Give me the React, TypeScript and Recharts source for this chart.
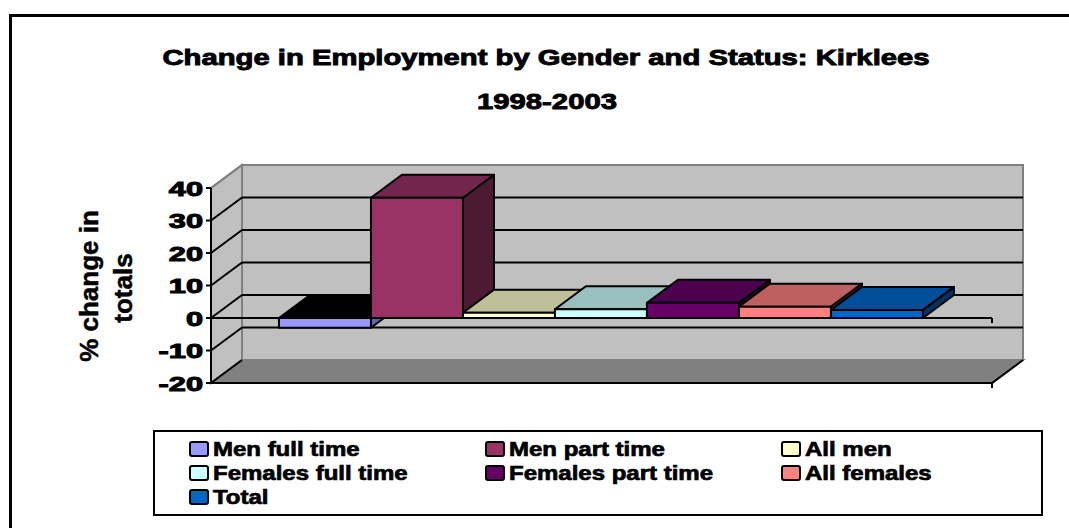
import { BarChart, Bar, XAxis, YAxis, ReferenceArea, ReferenceLine, Legend } from "recharts";

const categories = ["Kirklees 1998-2003"];
const seriesNames = [
  "Men full time",
  "Men part time",
  "All men",
  "Females full time",
  "Females part time",
  "All females",
  "Total",
];
const seriesValues = [-3, 37, 1.6, 2.7, 4.7, 3.5, 2.5];
const seriesColors = ["#9999FF", "#993366", "#FFFFCC", "#CCFFFF", "#660066", "#FF8080", "#0066CC"];
const yTicks = [-20, -10, 0, 10, 20, 30, 40];
const titleLines = ["Change in Employment by Gender and Status: Kirklees", "1998-2003"];
const yTitleLines = ["% change in", "totals"];

// depth of the fake 3d box
const DX = 31;
const DY = -23;
const FONT = '"Liberation Sans", Arial, Helvetica, sans-serif';

const data = categories.map((name) => {
  const row: Record<string, string | number> = { name };
  seriesNames.forEach((_, j) => {
    row[`s${j}`] = seriesValues[j];
  });
  return row;
});

function shade(hex: string, f: number) {
  const n = parseInt(hex.slice(1), 16);
  const r = Math.round(((n >> 16) & 255) * f);
  const g = Math.round(((n >> 8) & 255) * f);
  const b = Math.round((n & 255) * f);
  return `rgb(${r},${g},${b})`;
}

function Bar3D(props: any) {
  const { x, y, width, height, fill } = props;
  const v = props.payload?.[props.dataKey] ?? 0;
  const top = Math.min(y, y + height);
  const bottom = Math.max(y, y + height);
  const l = x;
  const r = x + width;
  const topFill = v < 0 ? "#000" : shade(fill, 0.75);
  const sideFill = shade(fill, v < 0 ? 0.65 : 0.5);
  return (
    <g stroke="#000" strokeWidth={2} strokeLinejoin="round">
      <polygon
        points={`${r},${top} ${r + DX},${top + DY} ${r + DX},${bottom + DY} ${r},${bottom}`}
        fill={sideFill}
      />
      <polygon
        points={`${l},${top} ${r},${top} ${r + DX},${top + DY} ${l + DX},${top + DY}`}
        fill={topFill}
      />
      <rect x={l} y={top} width={width} height={bottom - top} fill={fill} />
    </g>
  );
}

function Walls(props: any) {
  const { x, y, width, height } = props;
  const r = x + width;
  const b = y + height;
  return (
    <g>
      <polygon
        points={`${x},${y} ${x + DX},${y + DY} ${x + DX},${b + DY} ${x},${b}`}
        fill="#C0C0C0"
        stroke="#808080"
        strokeWidth={2}
      />
      <rect x={x + DX} y={y + DY} width={width} height={height} fill="#C0C0C0" stroke="#808080" strokeWidth={2} />
      <polygon
        points={`${x},${b} ${x + DX},${b + DY} ${r + DX},${b + DY} ${r},${b}`}
        fill="#808080"
        stroke="#808080"
        strokeWidth={2}
      />
      <polyline points={`${x},${b} ${r},${b} ${r + DX},${b + DY}`} fill="none" stroke="#000" strokeWidth={2} />
      <line x1={r} y1={b} x2={r} y2={b + 5} stroke="#000" strokeWidth={2} />
    </g>
  );
}

function GridLine(props: any) {
  const { x1, y1, x2, v } = props;
  const isTop = v === yTicks[yTicks.length - 1];
  const isBottom = v === yTicks[0];
  return (
    <g strokeWidth={2}>
      <line x1={x1} y1={y1} x2={x1 + DX} y2={y1 + DY} stroke={isTop ? "#808080" : "#000"} />
      {!isTop && !isBottom && (
        <line x1={x1 + DX} y1={y1 + DY} x2={x2 + DX} y2={y1 + DY} stroke="#000" />
      )}
    </g>
  );
}

function ZeroLine(props: any) {
  const { x1, y1, x2 } = props;
  return (
    <g stroke="#000" strokeWidth={2}>
      <line x1={x1} y1={y1} x2={x2} y2={y1} />
      <line x1={x2} y1={y1} x2={x2} y2={y1 + 5} />
    </g>
  );
}

function YTick(props: any) {
  const { x, y, payload } = props;
  return (
    <text
      transform={`translate(${x},${y + 7.5}) scale(1.5,1)`}
      textAnchor="end"
      fontSize={20.5}
      fontWeight="bold"
      fontFamily={FONT}
      fill="#000"
      stroke="#000"
      strokeWidth={1}
    >
      {payload.value}
    </text>
  );
}

function LegendBox(props: any) {
  const items = [...(props.payload ?? [])].sort(
    (a: any, b: any) => seriesNames.indexOf(a.value) - seriesNames.indexOf(b.value)
  );
  return (
    <div
      style={{
        width: 890,
        height: 86,
        boxSizing: "border-box",
        border: "2px solid #000",
        background: "#fff",
      }}
    >
      <svg width={886} height={82} style={{ display: "block" }}>
        {items.map((it: any, i: number) => {
          const sx = 35 + (i % 3) * 296;
          const sy = 10 + Math.floor(i / 3) * 24;
          return (
            <g key={i}>
              <rect x={sx} y={sy} width={18} height={14} rx={2} fill={it.color} stroke="#000" strokeWidth={2} />
              <text
                transform={`translate(${sx + 23},${sy + 14}) scale(1.2,1)`}
                fontSize={20}
                fontWeight="bold"
                fontFamily={FONT}
                fill="#000"
                stroke="#000"
                strokeWidth={0.7}
              >
                {it.value}
              </text>
            </g>
          );
        })}
      </svg>
    </div>
  );
}

export default function App() {
  return (
    <div
      style={{
        position: "fixed",
        left: 0,
        top: 0,
        width: 1069,
        height: 528,
        overflow: "hidden",
        background: "#fff",
      }}
    >
      <div
        style={{
          position: "absolute",
          left: 9,
          top: 14,
          width: 1200,
          height: 700,
          borderLeft: "3px solid #000",
          borderTop: "3px solid #000",
        }}
      />
      <div style={{ position: "absolute", left: 0, top: 0 }}>
        <BarChart
          width={1069}
          height={528}
          data={data}
          margin={{ top: 188, right: 77, bottom: 145, left: 151 }}
          barCategoryGap="8.7%"
          barGap={0}
        >
          <XAxis dataKey="name" type="category" hide />
          <YAxis
            type="number"
            domain={[-20, 40]}
            ticks={yTicks}
            width={60}
            axisLine={{ stroke: "#000", strokeWidth: 2 }}
            tickLine={{ stroke: "#000", strokeWidth: 2 }}
            tickSize={5}
            tickMargin={3}
            tick={<YTick />}
            interval={0}
          />
          <ReferenceArea y1={-20} y2={40} shape={<Walls />} zIndex={-60} ifOverflow="visible" />
          {yTicks.map((t) => (
            <ReferenceLine
              key={t}
              y={t}
              zIndex={-50}
              ifOverflow="visible"
              shape={(p: any) => <GridLine {...p} v={t} />}
            />
          ))}
          <ReferenceLine y={0} zIndex={-40} shape={(p: any) => <ZeroLine {...p} />} />
          {seriesNames.map((n, j) => (
            <Bar
              key={n}
              dataKey={`s${j}`}
              name={n}
              fill={seriesColors[j]}
              isAnimationActive={false}
              shape={(p: any) => <Bar3D {...p} dataKey={`s${j}`} fill={seriesColors[j]} />}
            />
          ))}
          <Legend
            layout="horizontal"
            verticalAlign="middle"
            align="center"
            itemSorter={null}
            content={<LegendBox />}
            wrapperStyle={{ left: 153, top: 430, width: 890, height: 86 }}
          />
        </BarChart>
      </div>
      <svg
        width={1069}
        height={528}
        style={{ position: "absolute", left: 0, top: 0, pointerEvents: "none" }}
      >
        <g fontFamily={FONT} fontWeight="bold" fill="#000" stroke="#000" textAnchor="middle">
          <text transform="translate(546,65) scale(1.33,1)" fontSize={22} strokeWidth={0.9}>
            {titleLines[0]}
          </text>
          <text transform="translate(547,109) scale(1.33,1)" fontSize={22} strokeWidth={0.9}>
            {titleLines[1]}
          </text>
          <text transform="translate(98,286) rotate(-90)" fontSize={26} strokeWidth={0.5}>
            {yTitleLines[0]}
          </text>
          <text transform="translate(132,288) rotate(-90)" fontSize={26} strokeWidth={0.5}>
            {yTitleLines[1]}
          </text>
        </g>
      </svg>
    </div>
  );
}
